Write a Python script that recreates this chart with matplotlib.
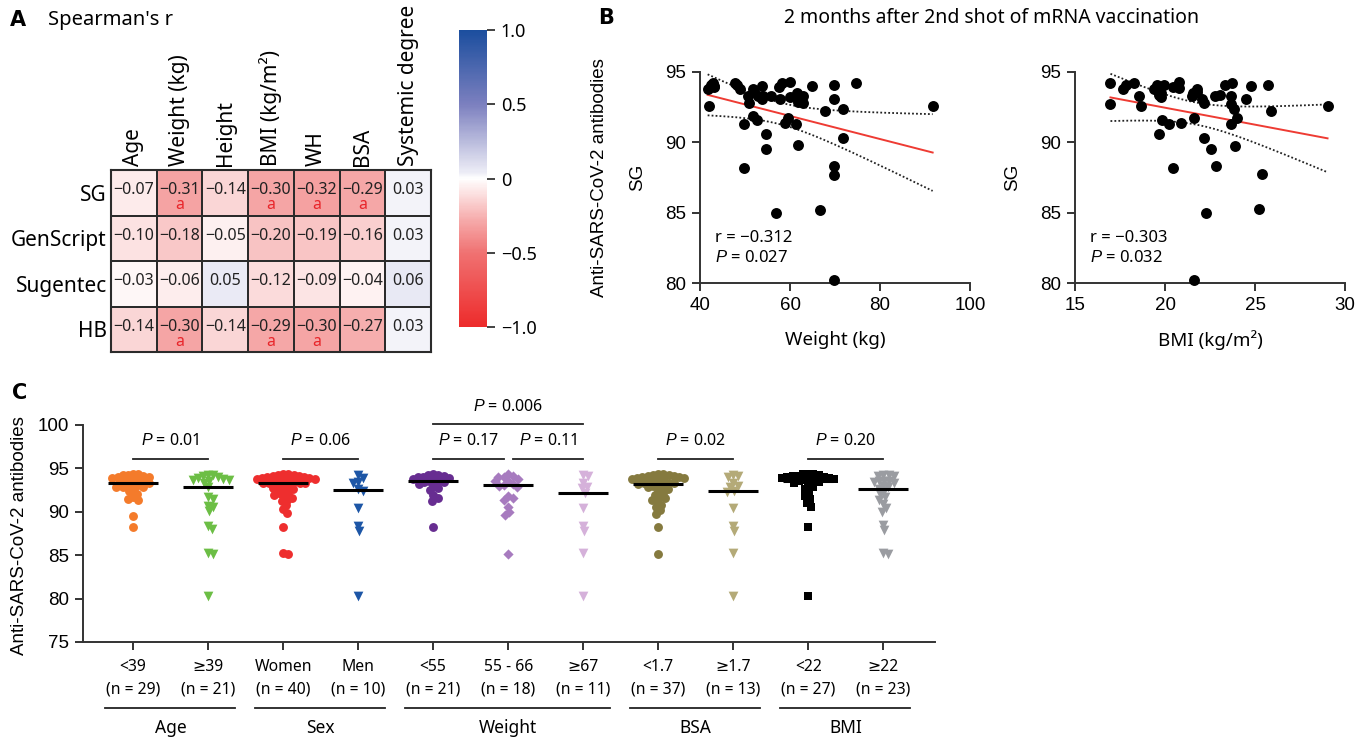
import numpy as np
import matplotlib.pyplot as plt
from matplotlib.colors import LinearSegmentedColormap
from matplotlib.transforms import blended_transform_factory

plt.rcParams["font.family"] = ["Noto Sans", "DejaVu Sans"]
plt.rcParams["mathtext.fontset"] = "custom"
plt.rcParams["mathtext.it"] = "Liberation Sans:italic"
plt.rcParams["mathtext.rm"] = "Liberation Sans"
plt.rcParams["axes.unicode_minus"] = True

# ---------------- data ----------------
# panel A: Spearman's r
heat_rows = ["SG", "GenScript", "Sugentec", "HB"]
heat_cols = ["Age", "Weight (kg)", "Height", "BMI (kg/m²)", "WH", "BSA", "Systemic degree"]
r_sg = [-0.07, -0.31, -0.14, -0.30, -0.32, -0.29, 0.03]
r_genscript = [-0.10, -0.18, -0.05, -0.20, -0.19, -0.16, 0.03]
r_sugentec = [-0.03, -0.06, 0.05, -0.12, -0.09, -0.04, 0.06]
r_hb = [-0.14, -0.30, -0.14, -0.29, -0.30, -0.27, 0.03]
sig_sg = [0, 1, 0, 1, 1, 1, 0]
sig_genscript = [0, 0, 0, 0, 0, 0, 0]
sig_sugentec = [0, 0, 0, 0, 0, 0, 0]
sig_hb = [0, 1, 0, 1, 1, 0, 0]

# panel B: SG vs weight / BMI
weight = [41.7, 41.9, 42.8, 43.0, 42.5, 43.2, 47.7, 48.3, 48.9, 49.8, 49.8, 50.7, 50.9, 51.8, 52.0,
          51.8, 52.7, 52.9, 53.7, 53.7, 53.9, 54.7, 54.7, 55.8, 56.9, 57.6, 57.8, 58.3, 58.9, 59.6,
          59.9, 59.9, 61.3, 61.6, 61.7, 61.8, 62.8, 62.8, 64.9, 66.7, 67.8, 69.7, 69.7, 69.7, 69.7,
          69.7, 71.7, 71.7, 74.6, 91.7]
sg_weight = [93.8, 92.6, 94.2, 94.0, 94.1, 93.9, 94.2, 94.1, 93.8, 91.3, 88.2, 93.3, 92.8, 93.8, 93.6,
             91.9, 91.6, 93.3, 94.0, 93.1, 93.3, 90.6, 89.5, 93.3, 85.0, 93.9, 93.1, 94.2, 91.4, 91.7,
             94.3, 93.2, 91.3, 93.5, 89.8, 92.9, 93.3, 92.8, 94.0, 85.2, 92.2, 94.1, 93.1, 88.3, 87.7,
             80.2, 92.4, 90.3, 94.2, 92.6]
bmi = [16.97, 16.97, 17.67, 17.85, 18.3, 18.57, 18.66, 19.37, 19.55, 19.65, 19.68, 19.79, 19.8, 19.86,
       19.94, 20.2, 20.45, 20.43, 20.75, 20.8, 20.88, 21.5, 21.55, 21.6, 21.6, 21.75, 21.8, 22.07, 22.17,
       22.18, 22.28, 22.55, 22.86, 22.8, 23.08, 23.36, 23.7, 23.65, 23.68, 23.68, 23.84, 23.87, 24.0,
       24.48, 24.8, 25.2, 25.4, 25.7, 25.9, 29.03]
sg_bmi = [94.2, 92.75, 93.8, 94.05, 94.2, 93.3, 92.6, 93.8, 94.05, 93.35, 90.6, 93.2, 93.5, 91.6, 94.1,
          91.3, 88.2, 93.9, 94.3, 93.85, 91.4, 93.3, 93.5, 91.75, 80.2, 93.8, 93.6, 93.1, 92.8, 90.3,
          85.0, 89.5, 88.3, 93.3, 93.4, 94.1, 94.2, 93.3, 92.75, 91.3, 92.35, 89.75, 91.7, 93.05, 94.0,
          85.25, 87.75, 94.1, 92.2, 92.6]
stats_weight = ("−0.312", "0.027")
stats_bmi = ("−0.303", "0.032")

# panel C: SG by subgroup
age_lt39 = [94.4, 94.3, 94.2, 94.2, 94.1, 94.0, 94.0, 93.9, 93.8, 93.7, 93.6, 93.5, 93.4, 93.3, 93.3,
            93.2, 93.1, 93.0, 92.9, 92.8, 92.8, 92.6, 92.4, 92.1, 91.7, 91.5, 91.4, 89.5, 88.3]
age_ge39 = [94.2, 94.2, 94.1, 94.0, 93.9, 93.8, 93.7, 93.7, 93.6, 93.3, 92.8, 91.7, 91.5, 90.7, 90.6,
            90.1, 88.4, 88.0, 85.3, 85.1, 80.3]
women = [94.3, 94.3, 94.2, 94.2, 94.1, 94.1, 94.0, 94.0, 93.9, 93.9, 93.8, 93.8, 93.7, 93.6, 93.5,
         93.5, 93.4, 93.3, 93.3, 93.3, 93.3, 93.0, 92.9, 92.8, 92.7, 92.6, 92.4, 92.2, 92.0, 91.9,
         91.8, 91.6, 91.4, 91.2, 90.8, 90.3, 89.9, 88.2, 85.3, 85.1]
men = [94.2, 93.9, 93.4, 93.3, 92.6, 92.4, 90.4, 88.4, 87.8, 80.3]
wt_lt55 = [94.3, 94.2, 94.2, 94.1, 94.0, 94.0, 93.9, 93.8, 93.7, 93.6, 93.5, 93.4, 93.4, 93.2, 93.0,
           92.7, 92.5, 91.9, 91.6, 91.3, 88.3]
wt_55_66 = [94.3, 94.1, 94.0, 94.0, 93.8, 93.5, 93.5, 93.2, 93.1, 93.0, 92.9, 91.8, 91.6, 91.4, 90.6,
            90.0, 89.6, 85.1]
wt_ge67 = [94.2, 94.1, 93.3, 92.9, 92.7, 92.2, 90.4, 88.4, 87.8, 85.3, 80.3]
bsa_lt17 = [94.3, 94.3, 94.2, 94.2, 94.1, 94.1, 94.0, 94.0, 93.9, 93.9, 93.8, 93.7, 93.6, 93.5, 93.4,
            93.3, 93.3, 93.3, 93.2, 93.1, 93.0, 92.9, 92.8, 92.6, 92.4, 92.2, 91.9, 91.7, 91.6, 91.4,
            91.2, 90.8, 90.6, 90.2, 89.8, 88.3, 85.1]
bsa_ge17 = [94.2, 94.1, 94.0, 93.3, 93.0, 92.8, 92.4, 92.3, 90.4, 88.4, 87.8, 85.3, 80.3]
bmi_lt22 = [94.4, 94.3, 94.3, 94.2, 94.1, 94.1, 94.0, 94.0, 93.9, 93.9, 93.8, 93.8, 93.7, 93.6, 93.5,
            93.4, 93.3, 93.1, 92.9, 92.6, 92.2, 91.8, 91.5, 91.0, 90.6, 88.3, 80.3]
bmi_ge22 = [94.2, 94.2, 94.1, 94.1, 93.6, 93.5, 93.5, 93.4, 93.3, 93.0, 92.8, 92.6, 92.4, 92.0, 91.7,
            91.4, 90.9, 90.4, 90.0, 88.5, 87.9, 85.3, 85.1]

group_labels = ["<39", "≥39", "Women", "Men", "<55", "55 - 66", "≥67", "<1.7", "≥1.7", "<22", "≥22"]
group_values = [age_lt39, age_ge39, women, men, wt_lt55, wt_55_66, wt_ge67,
                bsa_lt17, bsa_ge17, bmi_lt22, bmi_ge22]
categories = [("Age", 0, 1), ("Sex", 2, 3), ("Weight", 4, 6), ("BSA", 7, 8), ("BMI", 9, 10)]
# (from group, to group, p value, bracket level, inset left, inset right)
comparisons = [(0, 1, "0.01", 0, 0, 0), (2, 3, "0.06", 0, 0, 0), (4, 5, "0.17", 0, 0, 0.05),
               (5, 6, "0.11", 0, 0.07, 0), (4, 6, "0.006", 1, 0, 0), (7, 8, "0.02", 0, 0, 0),
               (9, 10, "0.20", 0, 0, 0)]

group_colors = ["#F47B2B", "#6CBE45", "#EE2E2E", "#1D56A6", "#672D91", "#A77BBF", "#D5B1DA",
                "#857A3F", "#B4AA78", "#000000", "#9A9CA1"]
group_markers = ["o", "v", "o", "v", "o", "D", "v", "o", "v", "s", "v"]
group_msize = [6.4, 7.0, 6.4, 7.0, 6.4, 5.2, 7.0, 6.4, 7.0, 6.4, 7.0]

# ---------------- figure ----------------
W, H = 1370, 741
fig = plt.figure(figsize=(W / 100, H / 100), dpi=100)


def box(x0, y0, x1, y1):
    return [x0 / W, 1 - y1 / H, (x1 - x0) / W, (y1 - y0) / H]


def ftext(px, py, s, **kw):
    fig.text(px / W, 1 - py / H, s, **kw)


# ---------- panel A ----------
ftext(10, 20, "A", fontsize=15, fontweight="bold", va="center", family=["DejaVu Sans"])
ftext(48, 20, "Spearman's r", fontsize=14.5, va="center")

cmap = LinearSegmentedColormap.from_list(
    "rwb", [(0.0, "#ED2B2B"), (0.25, "#F07272"), (0.35, "#F5A5A5"), (0.5, "#FFFFFF"),
            (0.52, "#EDEDF6"), (0.75, "#7C80BF"), (1.0, "#1B4E9E")])

corr = np.array([r_sg, r_genscript, r_sugentec, r_hb])
sig = np.array([sig_sg, sig_genscript, sig_sugentec, sig_hb])

axh = fig.add_axes(box(111, 170, 431, 352))
mesh = axh.pcolormesh(corr, cmap=cmap, vmin=-1, vmax=1, edgecolors="#2b2b2b", linewidth=1.3)
axh.set_xlim(0, corr.shape[1])
axh.set_ylim(corr.shape[0], 0)
axh.set_xticks(np.arange(corr.shape[1]) + 0.5)
axh.set_xticklabels(heat_cols, rotation=90, fontsize=15)
axh.set_yticks(np.arange(corr.shape[0]) + 0.5)
axh.set_yticklabels(heat_rows, fontsize=15)
axh.xaxis.tick_top()
axh.tick_params(length=0, pad=3)
axh.tick_params(axis="x", pad=3)
for s in axh.spines.values():
    s.set_linewidth(1.5)
    s.set_color("#2b2b2b")
for i in range(corr.shape[0]):
    for j in range(corr.shape[1]):
        txt = f"{corr[i, j]:.2f}".replace("-", "−")
        axh.text(j + 0.5, i + 0.45, txt, ha="center", va="center", fontsize=11.5, color="#222222")
        if sig[i, j]:
            axh.text(j + 0.5, i + 0.78, "a", ha="center", va="center", fontsize=11.5, color="#E8262B")

cax = fig.add_axes(box(459, 30, 487, 327))
cb = fig.colorbar(mesh, cax=cax, ticks=[-1, -0.5, 0, 0.5, 1])
cb.outline.set_visible(False)
cb.ax.set_yticklabels(["−1.0", "−0.5", "0", "0.5", "1.0"])
cax.tick_params(length=6, width=1.2, labelsize=13, color="#222222", pad=4)

# ---------- panel B ----------
ftext(598, 18, "B", fontsize=15, fontweight="bold", va="center", family=["DejaVu Sans"])
ftext(992, 18, "2 months after 2nd shot of mRNA vaccination", fontsize=14, va="center", ha="center")
ftext(600, 178, "Anti-SARS-CoV-2 antibodies", fontsize=13.5, rotation=90, ha="center", va="center",
      family=["Liberation Sans"])


def scatter_panel(ax, x, y, xlim, xticks, xlabel, stats):
    x = np.asarray(x)
    y = np.asarray(y)
    ax.scatter(x, y, s=62, color="black", zorder=3, clip_on=False, linewidths=0)
    slope, icpt = np.polyfit(x, y, 1)
    xx = np.linspace(x.min(), x.max(), 200)
    yy = slope * xx + icpt
    n = len(x)
    resid = y - (slope * x + icpt)
    s_err = np.sqrt(np.sum(resid ** 2) / (n - 2))
    se = s_err * np.sqrt(1 / n + (xx - x.mean()) ** 2 / np.sum((x - x.mean()) ** 2))
    t = 2.011
    ax.plot(xx, yy, color="#EE3B33", lw=1.4, zorder=2)
    ax.plot(xx, yy + t * se, color="#222222", lw=1.3, ls=(0, (1, 1.2)), zorder=2)
    ax.plot(xx, yy - t * se, color="#222222", lw=1.3, ls=(0, (1, 1.2)), zorder=2)
    ax.set_xlim(*xlim)
    ax.set_ylim(80, 95)
    ax.set_xticks(xticks)
    ax.set_yticks([80, 85, 90, 95])
    for sp in ["top", "right"]:
        ax.spines[sp].set_visible(False)
    for sp in ["left", "bottom"]:
        ax.spines[sp].set_linewidth(1.4)
        ax.spines[sp].set_color("#333333")
    ax.tick_params(length=6, width=1.4, color="#333333", labelsize=13.5, pad=4)
    for lab in ax.get_xticklabels() + ax.get_yticklabels():
        lab.set_family(["Liberation Sans"])
    ax.set_xlabel(xlabel, fontsize=13.5, labelpad=12)
    ax.set_ylabel("SG", fontsize=13.5, family=["Liberation Sans"], labelpad=14)
    x0 = xlim[0] + 0.055 * (xlim[1] - xlim[0])
    ax.text(x0, 83.2, "r = " + stats[0], fontsize=12, va="center")
    ax.text(x0, 81.8, "$P$ = " + stats[1], fontsize=12, va="center")


ax1 = fig.add_axes(box(700, 72, 970, 283))
scatter_panel(ax1, weight, sg_weight, (40, 100), [40, 60, 80, 100], "Weight (kg)", stats_weight)
ax2 = fig.add_axes(box(1075, 72, 1345, 283))
scatter_panel(ax2, bmi, sg_bmi, (15, 30), [15, 20, 25, 30], "BMI (kg/m²)", stats_bmi)

# ---------- panel C ----------
ftext(12, 393, "C", fontsize=15, fontweight="bold", va="center", family=["DejaVu Sans"])
ftext(20, 536, "Anti-SARS-CoV-2 antibodies", fontsize=13.5, rotation=90, ha="center", va="center",
      family=["Liberation Sans"])

axc = fig.add_axes(box(83, 425, 935, 642))
y_lo, y_hi = 75, 100
px_per_y = 217 / (y_hi - y_lo)
px_per_x = 75.0


def swarm(vals, d):
    vals = np.asarray(vals, dtype=float) * px_per_y
    out = np.zeros(len(vals))
    placed = []
    for i in np.argsort(-vals, kind="stable"):
        y = vals[i]
        cands = [0.0]
        for px, py in placed:
            dy = abs(py - y)
            if dy < d:
                dx = np.sqrt(d * d - dy * dy)
                cands += [px + dx, px - dx]
        cands.sort(key=abs)
        for c in cands:
            if all((c - px) ** 2 + (y - py) ** 2 >= d * d - 1e-6 for px, py in placed):
                out[i] = c
                break
        placed.append((out[i], y))
    return out / px_per_x


for i, vals in enumerate(group_values):
    offs = swarm(vals, 5.3)
    axc.scatter(i + offs, vals, marker=group_markers[i], s=group_msize[i] ** 2,
                color=group_colors[i], linewidths=0, zorder=2, clip_on=False)
    med = np.median(vals)
    axc.plot([i - 0.33, i + 0.33], [med, med], color="black", lw=2.2, zorder=3,
             solid_capstyle="butt")

axc.set_xlim(-0.667, 10.69)
axc.set_ylim(y_lo, y_hi)
axc.set_yticks(np.arange(75, 101, 5))
axc.set_xticks(np.arange(len(group_values)))
axc.set_xticklabels([])
for sp in ["top", "right"]:
    axc.spines[sp].set_visible(False)
for sp in ["left", "bottom"]:
    axc.spines[sp].set_linewidth(1.4)
    axc.spines[sp].set_color("#333333")
axc.tick_params(length=6, width=1.4, color="#333333", labelsize=13.5, pad=4)
for lab in axc.get_yticklabels():
    lab.set_family(["Liberation Sans"])

trans = blended_transform_factory(axc.transData, axc.transAxes)
for i, (lab, vals) in enumerate(zip(group_labels, group_values)):
    axc.text(i, -0.115, lab, transform=trans, ha="center", va="center", fontsize=11.3)
    axc.text(i, -0.221, f"(n = {len(vals)})", transform=trans, ha="center", va="center", fontsize=11.3)
for name, a, b in categories:
    axc.plot([a - 0.37, b + 0.36], [-0.304, -0.304], transform=trans, color="#222222", lw=1.3,
             clip_on=False)
    axc.text((a + b) / 2, -0.396, name, transform=trans, ha="center", va="center", fontsize=12.5)

for a, b, p, level, inl, inr in comparisons:
    yl = 96.1 + 4.0 * level
    axc.plot([a + inl, b - inr], [yl, yl], color="#222222", lw=1.3, clip_on=False)
    axc.text((a + inl + b - inr) / 2, yl + 2.0, "$P$ = " + p, ha="center", va="center", fontsize=11.5)

fig.savefig("out.png", dpi=100)
